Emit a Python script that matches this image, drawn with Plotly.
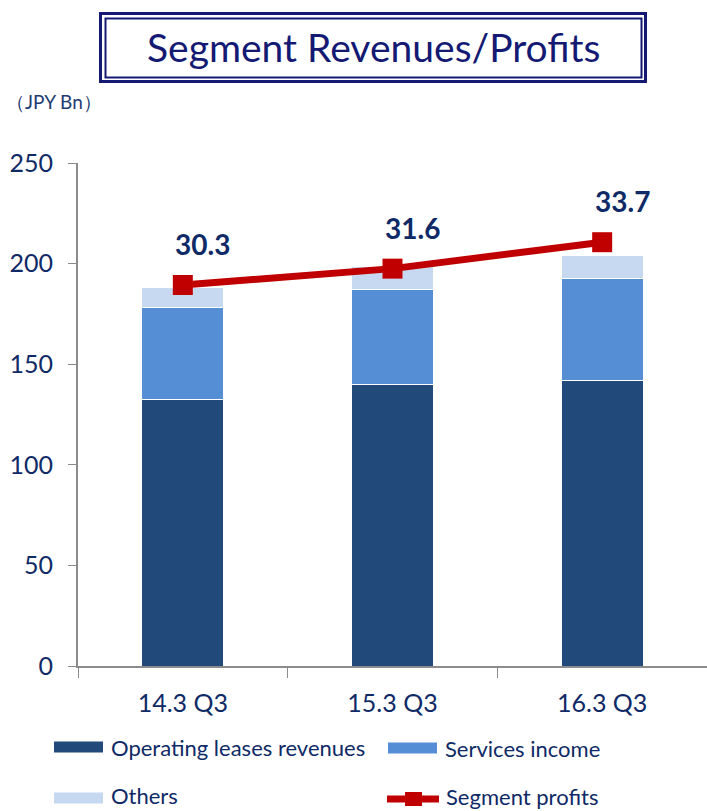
import plotly.graph_objects as go

# values in JPY Bn
periods = ["14.3 Q3", "15.3 Q3", "16.3 Q3"]
operating_leases = [132.7, 140.0, 141.7]
services_income = [45.5, 47.0, 50.7]
others = [10.1, 11.5, 11.5]
segment_profits = [30.3, 31.6, 33.7]

NAVY = "#0f2a66"
FONT = "Lato"
W, H = 707, 811
L, R, T, B = 78, 0, 163, 145


def px(x):
    # pixel column -> paper x
    return (x - L) / (W - L - R)


def py(y):
    # pixel row -> paper y
    return (H - B - y) / (H - T - B)


fig = go.Figure()

bar_series = [
    ("Operating leases revenues", operating_leases, "#214a7b"),
    ("Services income", services_income, "#558ed5"),
    ("Others", others, "#c6d9f1"),
]
for name, vals, col in bar_series:
    fig.add_trace(go.Bar(
        x=periods, y=vals, name=name, width=0.39,
        marker=dict(color=col, line=dict(color="white", width=1)),
        showlegend=False,
    ))

fig.add_trace(go.Scatter(
    x=periods, y=segment_profits, yaxis="y2", name="Segment profits",
    mode="lines+markers",
    line=dict(color="#c00000", width=7),
    marker=dict(symbol="square", size=20, color="#c00000"),
    showlegend=False,
))

# profit labels
for p, v in zip(periods, segment_profits):
    fig.add_annotation(
        x=p, y=v, xref="x", yref="y2", text=f"<b>{v:.1f}</b>",
        showarrow=False, xshift=20, yshift=41,
        font=dict(family=FONT, size=28, color=NAVY),
    )

shapes = []
# double-framed title box
shapes.append(dict(type="rect", xref="paper", yref="paper",
                   x0=px(100.5), x1=px(645.5), y0=py(13.5), y1=py(81.5),
                   line=dict(color="#141a73", width=3)))
shapes.append(dict(type="rect", xref="paper", yref="paper",
                   x0=px(105.5), x1=px(641.5), y0=py(18.5), y1=py(77.5),
                   line=dict(color="#141a73", width=2)))

# manual legend (wide swatches like the original)
legend_items = [
    ("Operating leases revenues", "#214a7b", 54, 747, "bar"),
    ("Services income", "#558ed5", 388, 748, "bar"),
    ("Others", "#c6d9f1", 54, 798, "bar"),
    ("Segment profits", "#c00000", 384, 799, "line"),
]
for label, col, x0, yc, kind in legend_items:
    if kind == "bar":
        shapes.append(dict(type="rect", xref="paper", yref="paper",
                           x0=px(x0), x1=px(x0 + 49), y0=py(yc + 5.5), y1=py(yc - 5.5),
                           fillcolor=col, line=dict(width=0)))
        tx = x0 + 55
    else:
        shapes.append(dict(type="line", xref="paper", yref="paper",
                           x0=px(x0 + 3), x1=px(x0 + 55), y0=py(yc), y1=py(yc),
                           line=dict(color=col, width=7)))
        shapes.append(dict(type="rect", xref="paper", yref="paper",
                           x0=px(x0 + 21), x1=px(x0 + 38), y0=py(yc + 7), y1=py(yc - 7),
                           fillcolor=col, line=dict(width=0)))
        tx = x0 + 60
    # keep the bottom row's descenders inside the page
    ty = yc - 3 if yc > 790 else yc
    fig.add_annotation(x=px(tx), y=py(ty), xref="paper", yref="paper",
                       text=label, showarrow=False, xanchor="left", yanchor="middle",
                       font=dict(family=FONT, size=22, color=NAVY))

fig.add_annotation(x=px(373), y=py(47), xref="paper", yref="paper",
                   text="Segment Revenues/Profits", showarrow=False,
                   xanchor="center", yanchor="middle",
                   font=dict(family=FONT, size=39, color="#141a73"))
fig.add_annotation(x=px(4), y=py(101), xref="paper", yref="paper",
                   text="（JPY Bn）", showarrow=False,
                   xanchor="left", yanchor="middle",
                   font=dict(family=FONT, size=19, color="#1f3b73"))

fig.update_layout(
    width=W, height=H,
    margin=dict(l=L, r=R, t=T, b=B),
    barmode="stack",
    plot_bgcolor="white", paper_bgcolor="white",
    shapes=shapes,
    font=dict(family=FONT, color=NAVY),
    xaxis=dict(
        showline=True, linecolor="#8c8c8c", linewidth=2,
        ticks="outside", tickson="boundaries", ticklen=10, tickcolor="#8c8c8c",
        tickfont=dict(size=25, color=NAVY), ticklabelstandoff=14,
        showgrid=False,
    ),
    yaxis=dict(
        range=[0, 250], dtick=50,
        showline=True, linecolor="#8c8c8c", linewidth=2,
        ticks="outside", ticklen=8, tickcolor="#8c8c8c",
        tickfont=dict(size=25, color=NAVY), ticklabelstandoff=10,
        showgrid=False, zeroline=False,
    ),
    yaxis2=dict(range=[0, 40], overlaying="y", visible=False),
)

# drop the browser's default 8px body margin so the figure fills the window
fig.write_html("out.html", config={"displayModeBar": False},
               post_script="document.body.style.margin='0';")
